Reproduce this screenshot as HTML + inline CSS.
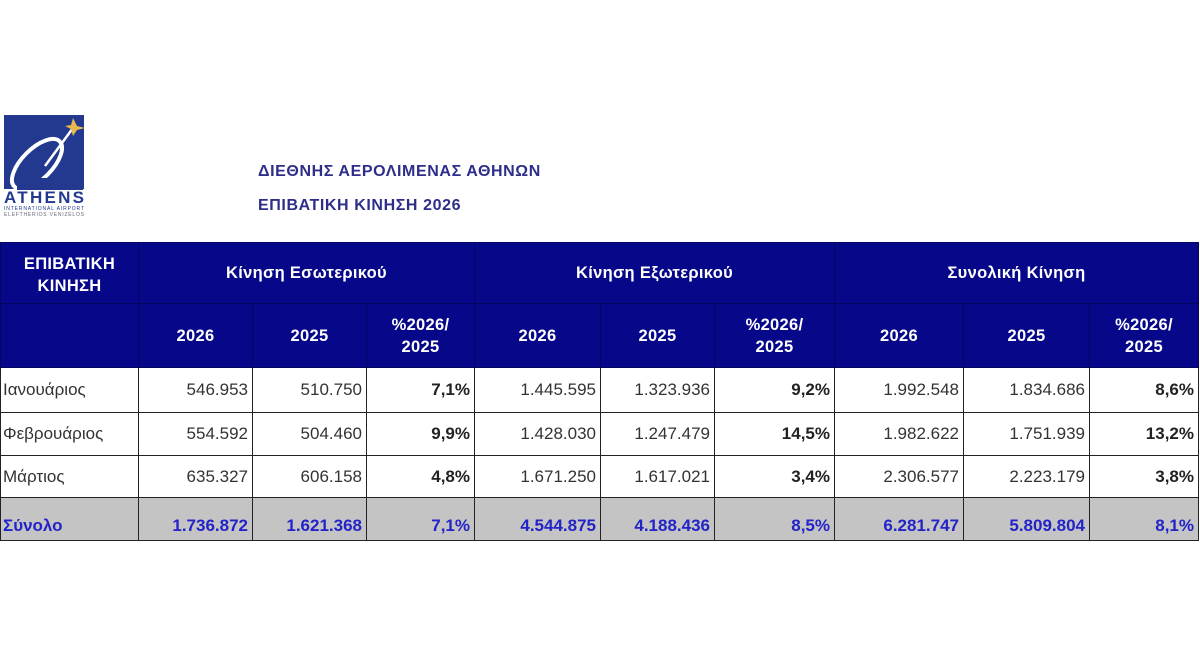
<!DOCTYPE html>
<html><head><meta charset="utf-8"><style>
body{margin:0;width:1200px;height:660px;background:#fff;position:relative;overflow:hidden;font-family:"Liberation Sans",sans-serif}
.t1{position:absolute;left:258px;color:#2e2e8a;font-weight:bold;font-size:16px;letter-spacing:0.6px}
table{position:absolute;left:0;top:242px;border-collapse:collapse;table-layout:fixed}
td{border:1.5px solid #222;padding:0 4px;font-size:17px;color:#333;text-align:right;white-space:nowrap}
tr.h td{background:#07078a;color:#fff;font-weight:bold;font-size:16.5px;text-align:center;border-color:#050560;letter-spacing:0.3px;line-height:22px}
td.m{text-align:left;padding-left:2px}
td.b{font-weight:bold;color:#222}
tr.s td{background:#c4c4c4;color:#2323c8;font-weight:bold;vertical-align:bottom;padding-bottom:4px}
</style></head><body>
<svg style="position:absolute;left:3px;top:114px" width="84" height="108">
<rect x="1" y="1" width="80" height="74" fill="#22398f"/>
<ellipse cx="34" cy="50" rx="32" ry="15" fill="none" stroke="#fff" stroke-width="4" transform="rotate(-45 34 50)"/>
<rect x="14" y="64" width="66" height="12" fill="#22398f"/>
<line x1="42" y1="52" x2="70" y2="14" stroke="#fff" stroke-width="2.5"/>
<polygon points="70,4 74,12 82,14 74,16 70,22 68,15 62,12 68,11" fill="#e8b84a"/>
<text x="1" y="89" font-family="Liberation Sans" font-weight="bold" font-size="17" fill="#22398f" textLength="80">ATHENS</text>
<text x="1" y="96" font-family="Liberation Sans" font-size="5" fill="#22398f" textLength="80">INTERNATIONAL AIRPORT</text>
<text x="1" y="102" font-family="Liberation Sans" font-size="5" fill="#667" textLength="80">ELEFTHERIOS VENIZELOS</text>
</svg>
<div class="t1" style="top:163px">ΔΙΕΘΝΗΣ ΑΕΡΟΛΙΜΕΝΑΣ ΑΘΗΝΩΝ</div>
<div class="t1" style="top:197px">ΕΠΙΒΑΤΙΚΗ ΚΙΝΗΣΗ 2026</div>
<table>
<colgroup><col style="width:138px"><col style="width:114px"><col style="width:114px"><col style="width:108px"><col style="width:126px"><col style="width:114px"><col style="width:120px"><col style="width:129px"><col style="width:126px"><col style="width:109px"></colgroup>
<tr class="h" style="height:61px"><td style="vertical-align:top;padding-top:10px">ΕΠΙΒΑΤΙΚΗ<br>ΚΙΝΗΣΗ</td><td colspan="3">Κίνηση Εσωτερικού</td><td colspan="3">Κίνηση Εξωτερικού</td><td colspan="3">Συνολική Κίνηση</td></tr>
<tr class="h" style="height:64px"><td></td><td>2026</td><td>2025</td><td>%2026/<br>2025</td><td>2026</td><td>2025</td><td>%2026/<br>2025</td><td>2026</td><td>2025</td><td>%2026/<br>2025</td></tr>
<tr style="height:45px"><td class="m">Ιανουάριος</td><td>546.953</td><td>510.750</td><td class="b">7,1%</td><td>1.445.595</td><td>1.323.936</td><td class="b">9,2%</td><td>1.992.548</td><td>1.834.686</td><td class="b">8,6%</td></tr>
<tr style="height:43px"><td class="m">Φεβρουάριος</td><td>554.592</td><td>504.460</td><td class="b">9,9%</td><td>1.428.030</td><td>1.247.479</td><td class="b">14,5%</td><td>1.982.622</td><td>1.751.939</td><td class="b">13,2%</td></tr>
<tr style="height:42px"><td class="m">Μάρτιος</td><td>635.327</td><td>606.158</td><td class="b">4,8%</td><td>1.671.250</td><td>1.617.021</td><td class="b">3,4%</td><td>2.306.577</td><td>2.223.179</td><td class="b">3,8%</td></tr>
<tr class="s" style="height:43px"><td class="m">Σύνολο</td><td>1.736.872</td><td>1.621.368</td><td>7,1%</td><td>4.544.875</td><td>4.188.436</td><td>8,5%</td><td>6.281.747</td><td>5.809.804</td><td>8,1%</td></tr>
</table>
</body></html>
